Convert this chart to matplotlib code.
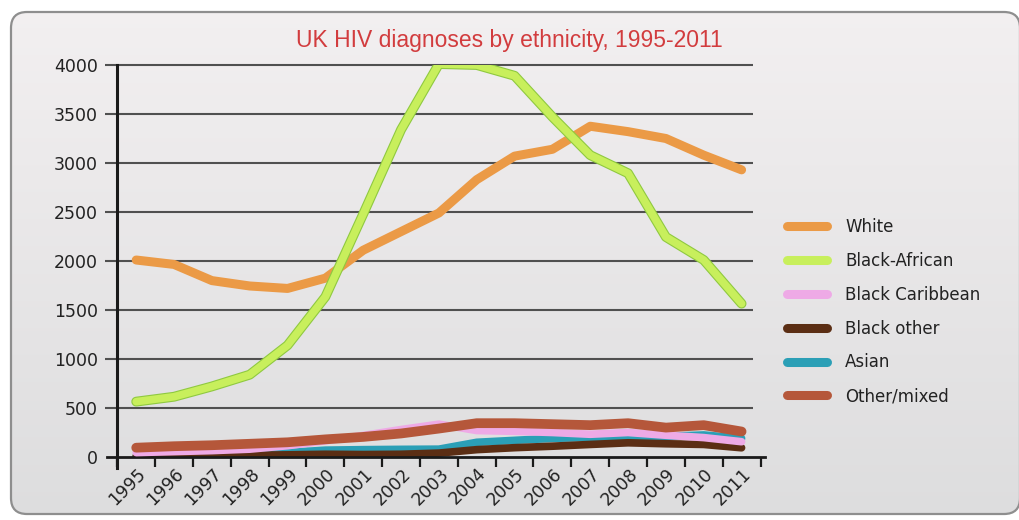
import numpy as np
import matplotlib
matplotlib.use('Agg')
import matplotlib.pyplot as plt
import matplotlib.transforms as mtransforms
import matplotlib.patheffects as pe
from matplotlib.patches import FancyBboxPatch

W, H = 1019, 520

years = [str(y) for y in range(1995, 2012)]
white = [2010, 1965, 1800, 1745, 1720, 1825, 2110, 2300, 2490, 2830, 3070, 3140, 3375, 3320, 3250, 3080, 2930]
black_african = [565, 615, 720, 840, 1140, 1635, 2480, 3340, 4010, 4000, 3890, 3470, 3080, 2895, 2245, 2010, 1565]
black_caribbean = [45, 55, 65, 80, 115, 165, 220, 280, 335, 270, 262, 250, 232, 250, 222, 198, 156]
black_other = [10, 12, 15, 18, 22, 28, 25, 28, 40, 75, 95, 110, 128, 145, 135, 128, 94]
asian = [5, 8, 12, 20, 45, 70, 75, 78, 80, 150, 170, 190, 200, 205, 210, 225, 190]
other_mixed = [95, 110, 120, 135, 150, 180, 205, 240, 290, 345, 345, 335, 325, 345, 300, 325, 260]

# name, values, colour, width, stacking order
series = [
    ('White', white, '#eb9a46', 6.5, 3.0),
    ('Black-African', black_african, '#c8ef5c', 5.5, 3.1),
    ('Black Caribbean', black_caribbean, '#eeaae6', 5.5, 2.6),
    ('Black other', black_other, '#5b2e14', 5.5, 2.5),
    ('Asian', asian, '#2b9fb6', 5.5, 2.4),
    ('Other/mixed', other_mixed, '#b5573a', 7, 2.7),
]


def main():
    fig = plt.figure(figsize=(W / 100, H / 100), dpi=100)
    fig.patch.set_facecolor('white')

    # rounded grey panel with a soft vertical gradient
    bg = fig.add_axes([0, 0, 1, 1], zorder=-10)
    bg.set_xlim(0, W)
    bg.set_ylim(0, H)
    bg.axis('off')
    grad = np.linspace(0, 1, 256).reshape(-1, 1)
    top = np.array([243, 240, 241]) / 255
    bot = np.array([221, 221, 222]) / 255
    img = grad[..., None] * top + (1 - grad[..., None]) * bot
    im = bg.imshow(img, extent=(0, W, 0, H), origin='lower', aspect='auto')
    panel = FancyBboxPatch((11, 6), 1020 - 11, 508 - 6,
                           boxstyle='round,pad=0,rounding_size=16',
                           facecolor='none', edgecolor='#8e8e8e', lw=1.6)
    bg.add_patch(panel)
    im.set_clip_path(panel)

    # plotting area: categories centred between boundary ticks
    x0, x1 = 117.3, 760.5
    y0, y1 = 457, 65
    ax = fig.add_axes([x0 / W, (H - y0) / H, (x1 - x0) / W, (y0 - y1) / H])
    ax.patch.set_alpha(0)
    ax.set_xlim(-0.5, 16.5)
    ax.set_ylim(0, 4000)

    x = np.arange(len(years))
    for name, vals, col, lw, z in series:
        kw = {}
        if name == 'Black-African':
            kw['path_effects'] = [pe.Stroke(linewidth=lw + 1.6, foreground='#8fc940'), pe.Normal()]
        ax.plot(x, vals, color=col, lw=lw, solid_capstyle='round',
                solid_joinstyle='round', label=name, zorder=z, **kw)

    # horizontal rules
    yt = np.arange(0, 4001, 500)
    ax.hlines(yt[1:], -0.83, 16.29, colors='#505050', lw=1.5, clip_on=False, zorder=1)

    for s in ['top', 'right']:
        ax.spines[s].set_visible(False)
    ax.spines['left'].set_bounds(-110, 4000)
    ax.spines['left'].set_linewidth(2.2)
    ax.spines['left'].set_color('#1a1a1a')
    ax.spines['bottom'].set_bounds(-0.78, 16.62)
    ax.spines['bottom'].set_linewidth(2)
    ax.spines['bottom'].set_color('#1a1a1a')

    ax.set_yticks(yt)
    ax.set_yticklabels([str(v) for v in yt])
    ax.tick_params(axis='y', length=0, pad=14, labelsize=12.5, labelcolor='#222222')

    ax.set_xticks(np.arange(-0.5, 16.6, 1.0))
    ax.set_xticklabels([])
    ax.tick_params(axis='x', which='major', length=7, width=1.6, color='#1a1a1a', direction='out')
    ax.set_xticks(x, minor=True)
    ax.set_xticklabels(years, minor=True, rotation=45, ha='right', va='center',
                       rotation_mode='anchor', fontsize=12.5, color='#222222')
    ax.tick_params(axis='x', which='minor', length=0, pad=10)
    shift = mtransforms.ScaledTranslation(7 / 100, 0, fig.dpi_scale_trans)
    for lbl in ax.get_xticklabels(minor=True):
        lbl.set_transform(lbl.get_transform() + shift)

    fig.text(509 / W, 1 - 40 / H, 'UK HIV diagnoses by ethnicity, 1995-2011',
             ha='center', va='center', fontsize=16.5, color='#d23c3e',
             family=['Liberation Sans Narrow', 'Liberation Sans', 'DejaVu Sans'])

    leg = ax.legend(loc='upper left', bbox_to_anchor=(787 / W, 1 - 218 / H),
                    bbox_transform=fig.transFigure, frameon=False, fontsize=12,
                    handlelength=2.4, handletextpad=1.1, labelspacing=0.95,
                    borderpad=0, borderaxespad=0)
    for t in leg.get_texts():
        t.set_color('#222222')
    for h in leg.get_lines():
        h.set_linewidth(6.5)
        h.set_path_effects([])

    fig.savefig('out.png', dpi=100)


if __name__ == '__main__':
    main()
